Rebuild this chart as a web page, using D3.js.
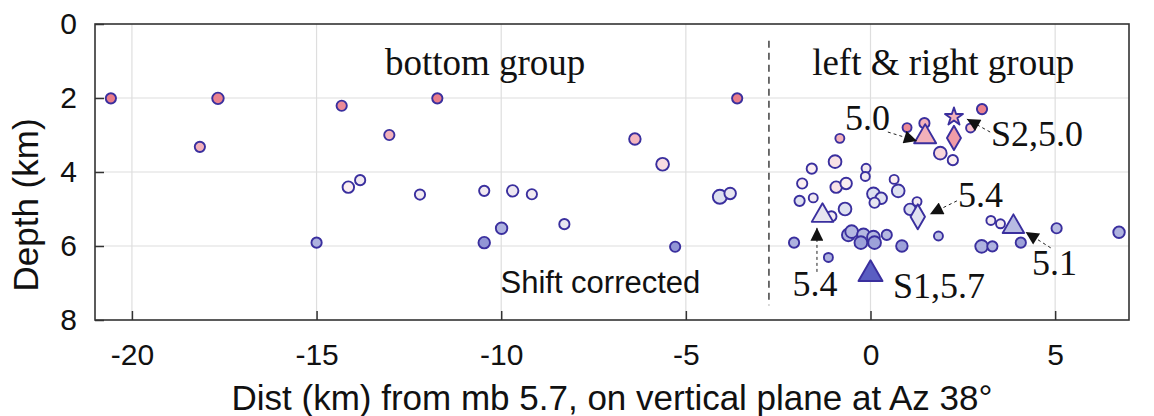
<!DOCTYPE html>
<html>
<head>
<meta charset="utf-8">
<script src="https://cdn.jsdelivr.net/npm/d3@7"></script>
<style>
  body { margin: 0; background: #fff; }
  svg { display: block; }
</style>
</head>
<body>
<svg id="canvas"></svg>
<script>
// events: distance along profile (km), depth (km), symbol size, colour tone
const dist = [
  -20.57, -17.67, -18.16, -14.32, -13.03, -14.14, -13.82, -11.73, -6.38, -5.63,
  -3.61, -12.2, -10.46, -9.69, -9.17, -4.08, -3.8, -15.0, -9.99, -10.46,
  -8.29, -5.29,
  0.99, 1.46, 3.02, 2.71, 1.89, 2.23, -0.83, -0.96, -1.59, -0.12,
  -0.14, -1.85, -0.93, -0.66, 0.64, 0.75, 0.08, 0.29, 0.11, -1.92,
  -1.55, -0.69, -1.06, 1.07, 1.26, 1.84, -2.07, -1.14, -0.6, -0.51,
  -0.19, -0.26, 0.08, 0.11, 0.44, 0.85, 3.01, 3.3, 3.26, 3.52,
  4.07, 5.04, 6.73
];
const depth = [
  2.01, 2.01, 3.32, 2.21, 3.0, 4.41, 4.22, 2.01, 3.11, 3.79,
  2.01, 4.61, 4.51, 4.51, 4.6, 4.67, 4.58, 5.91, 5.52, 5.91,
  5.41, 6.02,
  2.8, 2.68, 2.3, 2.81, 3.49, 3.68, 3.09, 3.72, 3.91, 3.9,
  4.12, 4.31, 4.41, 4.31, 4.2, 4.51, 4.59, 4.71, 4.83, 4.78,
  4.7, 5.0, 5.2, 5.01, 4.8, 5.73, 5.91, 6.31, 5.7, 5.61,
  5.7, 5.91, 5.76, 5.91, 5.7, 6.0, 6.01, 6.01, 5.31, 5.4,
  5.91, 5.52, 5.63
];
const size = [
  2, 3, 2, 2, 2, 3, 2, 2, 3, 4,
  2, 2, 2, 3, 2, 5, 3, 2, 3, 3,
  2, 2,
  1, 2, 2, 1, 4, 2, 1, 4, 2, 1,
  1, 2, 3, 3, 1, 4, 4, 3, 2, 2,
  1, 4, 2, 3, 1, 1, 2, 1, 4, 4,
  4, 4, 4, 4, 2, 3, 4, 2, 1, 1,
  2, 2, 3
];
const tone = [
  0, 0.02, 0.2, 0.05, 0.2, 0.45, 0.5, 0, 0.22, 0.38,
  0, 0.5, 0.5, 0.52, 0.5, 0.6, 0.55, 0.85, 0.85, 0.9,
  0.55, 0.9,
  0.05, 0.2, 0.02, 0.25, 0.35, 0.45, 0.2, 0.4, 0.45, 0.5,
  0.5, 0.45, 0.4, 0.45, 0.45, 0.6, 0.6, 0.58, 0.55, 0.6,
  0.5, 0.6, 0.5, 0.62, 0.5, 0.78, 0.85, 0.85, 0.85, 0.82,
  0.82, 0.88, 0.82, 0.88, 0.82, 0.88, 0.85, 0.85, 0.5, 0.5,
  0.88, 0.8, 0.85
];

// larger events drawn with special symbols
const bigKind = ["triangle", "triangle", "triangle", "triangle", "star", "diamond", "diamond"];
const bigDist = [1.48, -1.3, 3.87, 0, 2.26, 2.26, 1.28];
const bigDepth = [3.05, 5.18, 5.48, 6.76, 2.51, 3.08, 5.21];
const bigTone = [0.2, 0.55, 0.8, 1, 0.2, 0.12, 0.58];
const bigSize = [210, 200, 200, 250, 100, 170, 180];

// text labels and arrows
const labels = ["5.0", "S2,5.0", "5.4", "5.4", "S1,5.7", "5.1"];
const labelDist = [-0.69, 3.26, 2.37, -2.11, 0.61, 4.37];
const labelDepth = [2.86, 3.3, 4.95, 7.35, 7.41, 6.78];
const arrowFrom = [[0.47, 2.92], [3.24, 2.92], [2.34, 4.78], [-1.45, 6.7], [4.88, 6.05]];
const arrowTo = [[1.26, 3.16], [2.61, 2.57], [1.61, 5.14], [-1.45, 5.51], [4.2, 5.62]];

const xTicks = [-20, -15, -10, -5, 0, 5];
const yTicks = [0, 2, 4, 6, 8];
const divider = -2.75;

const width = 1154, height = 416;
const margin = { left: 95, right: 1129, top: 24, bottom: 320 };

const svg = d3.select("#canvas").attr("width", width).attr("height", height);

const x = d3.scaleLinear().domain([-21, 7]).range([margin.left, margin.right]);
const y = d3.scaleLinear().domain([0, 8]).range([margin.top, margin.bottom]);
const r = d3.scaleLinear().domain([1, 5]).range([4.5, 7]);
const color = d3.scaleLinear()
  .domain([0, 0.22, 0.45, 0.6, 0.85, 1])
  .range(["#ea7d8a", "#f4b6bf", "#fbeef1", "#dde0f0", "#aeb2df", "#5a5ec2"]);

const outline = "#3a2f9e";
const sans = "'Liberation Sans', Arial, sans-serif";
const serif = "'Liberation Serif', 'Times New Roman', serif";

// grid
svg.append("g").selectAll("line").data(xTicks).join("line")
  .attr("x1", d => x(d)).attr("x2", d => x(d))
  .attr("y1", margin.top).attr("y2", margin.bottom)
  .attr("stroke", "#dedede").attr("stroke-width", 1.2);
svg.append("g").selectAll("line").data(yTicks.slice(1, -1)).join("line")
  .attr("x1", margin.left).attr("x2", margin.right)
  .attr("y1", d => y(d)).attr("y2", d => y(d))
  .attr("stroke", "#dedede").attr("stroke-width", 1.2);

// axes (ticks inward, plain hyphen minus)
const fmt = d => String(d);
const xAxis = d3.axisBottom(x).tickValues(xTicks).tickSize(-9).tickPadding(24).tickFormat(fmt);
const yAxis = d3.axisLeft(y).tickValues(yTicks).tickSize(-9).tickPadding(18).tickFormat(fmt);

const gx = svg.append("g").attr("transform", `translate(0,${margin.bottom})`).call(xAxis);
const gy = svg.append("g").attr("transform", `translate(${margin.left},0)`).call(yAxis);
[gx, gy].forEach(g => {
  g.select(".domain").remove();
  g.selectAll(".tick line").attr("stroke", "#333").attr("stroke-width", 1.5);
  g.selectAll("text").attr("fill", "#111")
    .style("font-family", sans).style("font-size", "30px");
});
gx.selectAll("text").attr("dy", "0.7em");

svg.append("rect")
  .attr("x", margin.left).attr("y", margin.top)
  .attr("width", margin.right - margin.left).attr("height", margin.bottom - margin.top)
  .attr("fill", "none").attr("stroke", "#333").attr("stroke-width", 1.6);

// group divider
svg.append("line")
  .attr("x1", x(divider)).attr("x2", x(divider))
  .attr("y1", y(0.45)).attr("y2", y(7.6))
  .attr("stroke", "#222").attr("stroke-width", 1.3).attr("stroke-dasharray", "7,5");

// events
const events = dist.map((d, i) => ({ d, z: depth[i], s: size[i], t: tone[i] }));
svg.append("g").selectAll("circle").data(events).join("circle")
  .attr("cx", e => x(e.d)).attr("cy", e => y(e.z)).attr("r", e => r(e.s))
  .attr("fill", e => color(e.t))
  .attr("stroke", outline).attr("stroke-width", 1.9);

const symType = { triangle: d3.symbolTriangle, star: d3.symbolStar, diamond: d3.symbolDiamond };
const bigs = bigKind.map((k, i) => ({ k, d: bigDist[i], z: bigDepth[i], t: bigTone[i], s: bigSize[i] }));
svg.append("g").selectAll("path").data(bigs).join("path")
  .attr("d", e => d3.symbol().type(symType[e.k]).size(e.s)())
  .attr("transform", e => `translate(${x(e.d)},${y(e.z)})`)
  .attr("fill", e => color(e.t))
  .attr("stroke", outline).attr("stroke-width", 1.9).attr("stroke-linejoin", "round");

// arrows
svg.append("defs").append("marker")
  .attr("id", "head").attr("viewBox", "0 0 10 10")
  .attr("refX", 10).attr("refY", 5)
  .attr("markerWidth", 16).attr("markerHeight", 13)
  .attr("markerUnits", "userSpaceOnUse").attr("orient", "auto")
  .append("path").attr("d", "M0,0L10,5L0,10Z").attr("fill", "#111");

svg.append("g").selectAll("line").data(arrowFrom).join("line")
  .attr("x1", d => x(d[0])).attr("y1", d => y(d[1]))
  .attr("x2", (d, i) => x(arrowTo[i][0])).attr("y2", (d, i) => y(arrowTo[i][1]))
  .attr("stroke", "#222").attr("stroke-width", 1).attr("stroke-dasharray", "3,3")
  .attr("marker-end", "url(#head)");

// annotation text
svg.append("g").selectAll("text").data(labels).join("text")
  .attr("x", (d, i) => x(labelDist[i])).attr("y", (d, i) => y(labelDepth[i]))
  .attr("fill", "#111").style("font-family", serif).style("font-size", "36px")
  .text(d => d);

svg.append("text").attr("x", x(-13.15)).attr("y", y(1.38))
  .attr("fill", "#111").style("font-family", serif).style("font-size", "37px")
  .text("bottom group");
svg.append("text").attr("x", x(-1.58)).attr("y", y(1.38))
  .attr("fill", "#111").style("font-family", serif).style("font-size", "37px")
  .text("left & right group");
svg.append("text").attr("x", x(-10.02)).attr("y", y(7.27))
  .attr("fill", "#111").style("font-family", sans).style("font-size", "31px")
  .text("Shift corrected");

// axis titles
svg.append("text")
  .attr("x", 612).attr("y", 410)
  .attr("text-anchor", "middle").attr("fill", "#111")
  .style("font-family", sans).style("font-size", "35px")
  .text("Dist (km) from mb 5.7, on vertical plane at Az 38°");
svg.append("text")
  .attr("transform", `translate(38,${(margin.top + margin.bottom) / 2 + 33}) rotate(-90)`)
  .attr("text-anchor", "middle").attr("fill", "#111")
  .style("font-family", sans).style("font-size", "35px")
  .text("Depth (km)");
</script>
</body>
</html>
